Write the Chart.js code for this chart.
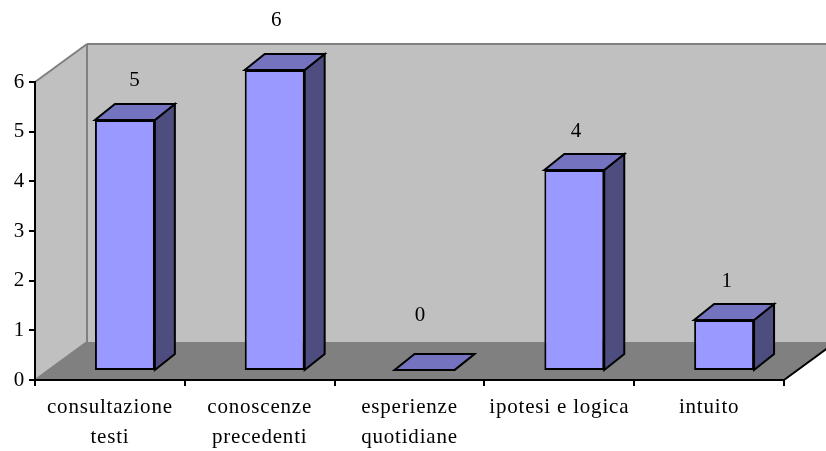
<!DOCTYPE html>
<html>
<head>
<meta charset="utf-8">
<style>
  html, body { margin: 0; padding: 0; background: #fff; }
  canvas { display: block; }
</style>
<script src="https://cdn.jsdelivr.net/npm/chart.js@4"></script>
</head>
<body>
<canvas id="chart" width="826" height="451"></canvas>
<script>
const categories = [['consultazione', 'testi'], ['conoscenze', 'precedenti'], ['esperienze', 'quotidiane'], ['ipotesi e logica'], ['intuito']];
const values = [5, 6, 0, 4, 1];
const yMax = 6;

// depth of the floor / walls and of the bars (the "3D" look)
const WALL_DX = 52, WALL_DY = 38;
const BAR_DX = 20, BAR_DY = 16;
const SHIFT_X = 15, SHIFT_Y = 10;

// excel puts the value labels a bit irregularly, offset from the bar's front top
const labelDx = [10, 2, -4, 2, 3];
const labelDy = [-40, -50, -55, -39, -39];

function poly(ctx, pts, fill, stroke, width) {
    ctx.beginPath();
    pts.forEach((p, i) => i ? ctx.lineTo(p[0], p[1]) : ctx.moveTo(p[0], p[1]));
    ctx.closePath();
    if (fill) { ctx.fillStyle = fill; ctx.fill(); }
    if (stroke) { ctx.strokeStyle = stroke; ctx.lineWidth = width; ctx.lineJoin = 'miter'; ctx.stroke(); }
}

function line(ctx, x1, y1, x2, y2, color, width) {
    ctx.beginPath();
    ctx.moveTo(x1, y1);
    ctx.lineTo(x2, y2);
    ctx.strokeStyle = color;
    ctx.lineWidth = width;
    ctx.stroke();
}

const walls = {
    id: 'walls',
    beforeDraw(chart) {
        const ctx = chart.ctx;
        const a = chart.chartArea;
        const bx = a.left + WALL_DX, by = a.bottom - WALL_DY, ty = a.top - WALL_DY;
        ctx.letterSpacing = '0.8px';
        ctx.save();
        poly(ctx, [[a.left, a.top], [bx, ty], [a.right + WALL_DX, ty], [a.right + WALL_DX, by], [bx, by], [a.left, a.bottom]], '#c0c0c0');
        poly(ctx, [[a.left, a.bottom], [bx, by], [a.right + WALL_DX, by], [a.right, a.bottom]], '#808080');
        line(ctx, a.left, a.top, bx, ty, '#808080', 2);
        line(ctx, bx, ty, a.right + WALL_DX, ty, '#808080', 2);
        line(ctx, bx, ty, bx, by, '#808080', 2);
        line(ctx, a.left, a.bottom, bx, by, '#808080', 2);
        line(ctx, a.right, a.bottom, a.right + WALL_DX, by, '#000', 2);
        ctx.restore();
    }
};

const bars3d = {
    id: 'bars3d',
    beforeDatasetsDraw(chart) {
        const ctx = chart.ctx;
        ctx.save();
        ctx.translate(SHIFT_X, -SHIFT_Y);
        chart.getDatasetMeta(0).data.forEach(bar => {
            const l = bar.x - bar.width / 2, r = bar.x + bar.width / 2;
            const t = bar.y, b = bar.base;
            poly(ctx, [[r, t], [r + BAR_DX, t - BAR_DY], [r + BAR_DX, b - BAR_DY], [r, b]], '#4d4d80', '#000', 2);
            poly(ctx, [[l, t], [l + BAR_DX, t - BAR_DY], [r + BAR_DX, t - BAR_DY], [r, t]], '#7373bf', '#000', 2);
        });
    },
    afterDatasetsDraw(chart) {
        const ctx = chart.ctx;
        ctx.restore();
        ctx.save();
        ctx.font = '21px "Liberation Serif"';
        ctx.fillStyle = '#000';
        ctx.textAlign = 'center';
        ctx.textBaseline = 'middle';
        chart.getDatasetMeta(0).data.forEach((bar, i) => {
            ctx.fillText(String(values[i]), bar.x + SHIFT_X + labelDx[i], bar.y - SHIFT_Y + labelDy[i]);
        });
        ctx.restore();
    }
};

new Chart(document.getElementById('chart'), {
    type: 'bar',
    data: {
        labels: categories,
        datasets: [{
            data: values,
            yAxisID: 'yBars',
            backgroundColor: '#9999ff',
            borderColor: '#000',
            borderWidth: 2,
            borderSkipped: false,
            barPercentage: 0.4,
            categoryPercentage: 1,
            clip: false
        }]
    },
    options: {
        responsive: false,
        animation: false,
        devicePixelRatio: 1,
        layout: { padding: { top: 82, right: 42, left: 0, bottom: 0 } },
        plugins: { legend: { display: false }, tooltip: { enabled: false } },
        scales: {
            x: {
                afterFit(scale) { scale.height = 71; },
                border: { color: '#000', width: 2 },
                grid: { drawOnChartArea: false, color: '#000', tickLength: 6, lineWidth: 2 },
                ticks: { color: '#000', font: { family: '"Liberation Serif"', size: 21, lineHeight: 1.43 }, padding: 6, maxRotation: 0, autoSkip: false }
            },
            y: {
                min: 0,
                max: yMax,
                afterFit(scale) { scale.width = 35; },
                border: { color: '#000', width: 2 },
                grid: { drawOnChartArea: false, color: '#000', tickLength: 6, lineWidth: 2 },
                ticks: { color: '#000', stepSize: 1, font: { family: '"Liberation Serif"', size: 21 }, padding: 4 }
            },
            // bars sit on a slightly different scale than the printed axis
            yBars: { display: false, min: 0, max: 5.96 }
        }
    },
    plugins: [walls, bars3d]
});
</script>
</body>
</html>
